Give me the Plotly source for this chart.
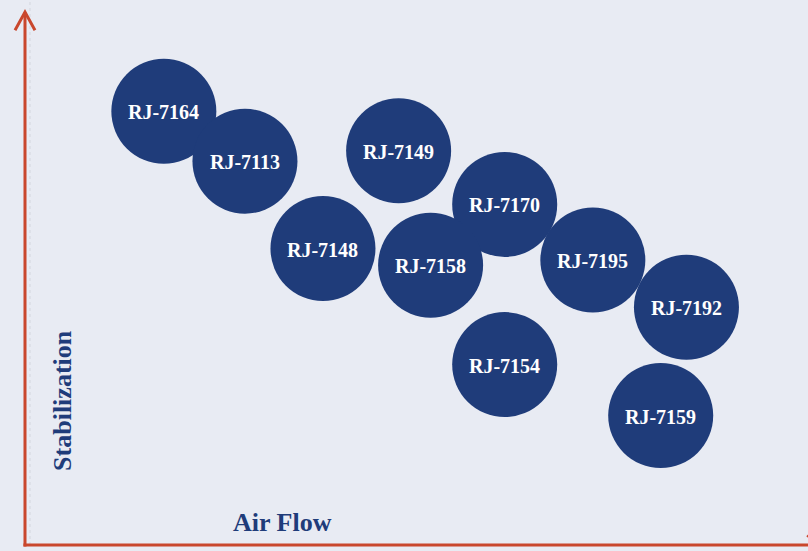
import plotly.graph_objects as go

# Data (arbitrary units: Air Flow vs Stabilization)
names = ["RJ-7164", "RJ-7113", "RJ-7149", "RJ-7148", "RJ-7170",
         "RJ-7158", "RJ-7195", "RJ-7192", "RJ-7154", "RJ-7159"]
air_flow = [1.78, 2.82, 4.79, 3.82, 6.15, 5.20, 7.28, 8.48, 6.15, 8.15]
stabilization = [8.34, 7.38, 7.58, 5.70, 6.55, 5.38, 5.48, 4.57, 3.47, 2.49]

BG = "#E8EBF3"
NAVY = "#1F3C7A"
RED = "#C9472D"
FONT = "Liberation Serif, Times New Roman, serif"

fig = go.Figure()
fig.add_trace(go.Scatter(
    x=air_flow, y=stabilization, mode="markers",
    text=names,
    marker=dict(size=105, color=NAVY, opacity=1, line=dict(width=0)),
    hoverinfo="text", showlegend=False,
))

X0, X1 = -25 / 78, 783 / 78
Y0, Y1 = -6 / 52, 545 / 52

shapes = [
    # faint dotted guide
    dict(type="line", xref="x", yref="y", x0=0.064, x1=0.064, y0=0, y1=Y1,
         line=dict(color="#D3D6DE", width=1, dash="dot"), layer="below"),
    # y axis
    dict(type="line", xref="x", yref="y", x0=0, x1=0, y0=-0.03, y1=10.24,
         line=dict(color=RED, width=3)),
    dict(type="path", xref="x", yref="y",
         path="M -0.128,9.90 L 0,10.25 L 0.128,9.90",
         line=dict(color=RED, width=3)),
    # x axis
    dict(type="line", xref="x", yref="y", x0=-0.02, x1=10.2, y0=0, y1=0,
         line=dict(color=RED, width=3)),
    dict(type="path", xref="x", yref="y",
         path="M 10.03,0.19 L 10.16,0 L 10.03,-0.19",
         line=dict(color=RED, width=3)),
]

annotations = [
    dict(x=xv, y=yv, xref="x", yref="y", text="<b>%s</b>" % n,
         showarrow=False, yshift=-1,
         font=dict(family=FONT, size=20, color="white"))
    for n, xv, yv in zip(names, air_flow, stabilization)
]
annotations += [
    dict(x=3.30, y=0.44, xref="x", yref="y", text="<b>Air Flow</b>",
         showarrow=False, font=dict(family=FONT, size=26, color=NAVY)),
    dict(x=0.487, y=2.79, xref="x", yref="y", text="<b>Stabilization</b>",
         textangle=-90, showarrow=False,
         font=dict(family=FONT, size=26, color=NAVY)),
]

fig.update_layout(
    width=808, height=551,
    margin=dict(l=0, r=0, t=0, b=0),
    paper_bgcolor=BG, plot_bgcolor=BG,
    xaxis=dict(range=[X0, X1], visible=False, fixedrange=True),
    yaxis=dict(range=[Y0, Y1], visible=False, fixedrange=True),
    shapes=shapes, annotations=annotations,
)

fig.write_html(
    "out.html",
    config={"displayModeBar": False},
    post_script="document.body.style.margin='0';document.body.style.padding='0';"
                "document.body.style.overflow='hidden';"
                "document.body.style.background='%s';" % BG,
)
